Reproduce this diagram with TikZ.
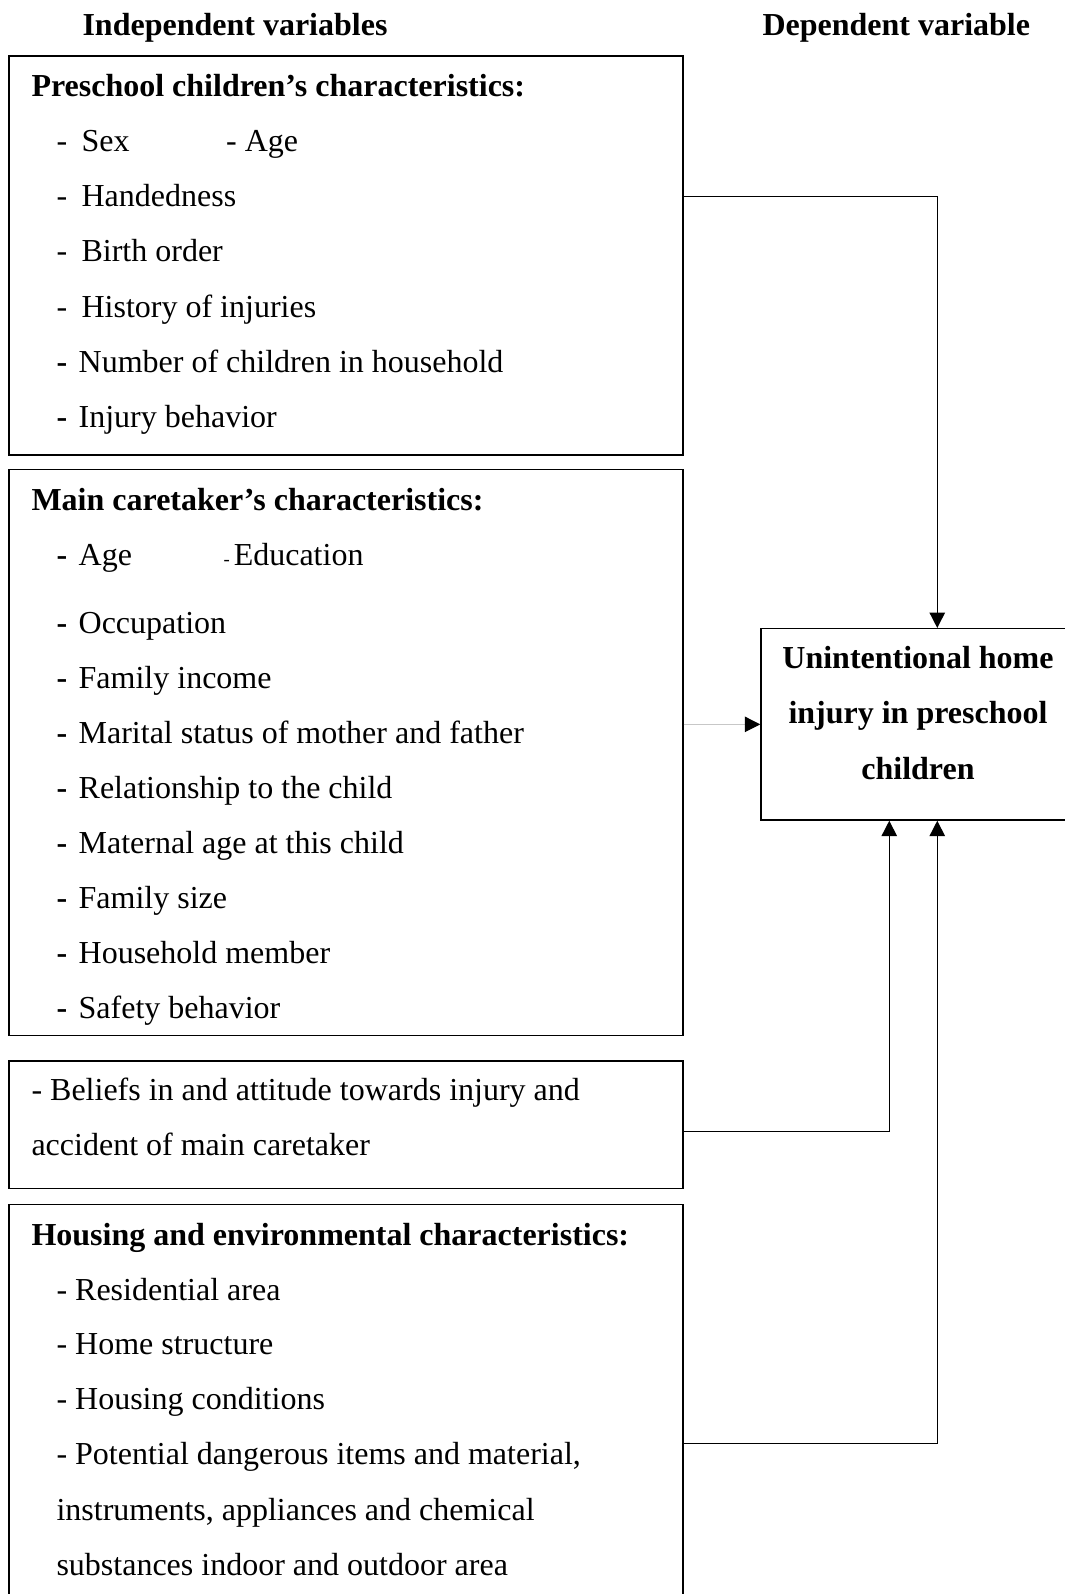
\documentclass[tikz,border=0pt]{standalone}
\usepackage{fontspec}
\setmainfont{Liberation Serif}
\usetikzlibrary{arrows.meta,fit}

\newcommand{\itm}[1]{\makebox[9.4pt][l]{-}#1}
\newcommand{\bitm}[1]{\makebox[8.3pt][l]{\textbf{-}}#1}

\begin{document}
\begin{tikzpicture}[x=0.375pt, y=-0.375pt,
    varbox/.style={draw, line width=0.55pt, inner sep=0pt},
    txt/.style={inner sep=0pt, anchor=base west, font=\fontsize{12pt}{14pt}\selectfont},
    head/.style={txt, font=\fontsize{12pt}{14pt}\selectfont\bfseries},
    link/.style={line width=0.55pt, -{Triangle[length=5.8pt, width=5.8pt]}}]

    % Page size
    \useasboundingbox (0,0) rectangle (1065,1594);

    % Column titles
    \node[head] (indep) at (82,35) {Independent variables};
    \node[head] (dep) at (762,35) {Dependent variable};

    % Preschool children box
    \node[varbox, fit={(9,56) (683,455)}] (child) {};
    \node[head] (childtitle) at (31,96) {Preschool children’s characteristics:};
    \node[txt] (sex) at (56,151) {\itm{Sex}};
    \node[txt] (age) at (225.6,151) {- Age};
    \node[txt] (hand) at (56,206) {\itm{Handedness}};
    \node[txt] (birth) at (56,261) {\itm{Birth order}};
    \node[txt] (hist) at (56,317) {\itm{History of injuries}};
    \node[txt] (nchild) at (56,372) {\bitm{Number of children in household}};
    \node[txt] (behav) at (56,427) {\bitm{Injury behavior}};

    % Main caretaker box
    \node[varbox, fit={(9,469.5) (683,1035.5)}] (carer) {};
    \node[head] (carertitle) at (31,510) {Main caretaker’s characteristics:};
    \node[txt] (cage) at (56,565) {\bitm{Age}};
    \node[txt] (educ) at (223,565) {{\scriptsize -}\hspace{1.5pt}Education};
    \node[txt] (occup) at (56,633) {\bitm{Occupation}};
    \node[txt] (income) at (56,688) {\bitm{Family income}};
    \node[txt] (marital) at (56,743) {\bitm{Marital status of mother and father}};
    \node[txt] (relat) at (56,798) {\bitm{Relationship to the child}};
    \node[txt] (matage) at (56,853) {\bitm{Maternal age at this child}};
    \node[txt] (fsize) at (56,908) {\bitm{Family size}};
    \node[txt] (member) at (56,963) {\bitm{Household member}};
    \node[txt] (safety) at (56,1018) {\bitm{Safety behavior}};

    % Beliefs box
    \node[varbox, fit={(9,1061) (683,1188.3)}] (belief) {};
    \node[txt] (belief1) at (31,1100) {- Beliefs in and attitude towards injury and};
    \node[txt] (belief2) at (31,1155) {accident of main caretaker};

    % Housing box
    \node[varbox, fit={(9,1204.3) (683,1600)}] (house) {};
    \node[head] (housetitle) at (31,1245) {Housing and environmental characteristics:};
    \node[txt] (area) at (56,1300) {- Residential area};
    \node[txt] (struct) at (56,1354) {- Home structure};
    \node[txt] (cond) at (56,1409) {- Housing conditions};
    \node[txt] (items1) at (56,1464) {- Potential dangerous items and material,};
    \node[txt] (items2) at (56,1520) {instruments, appliances and chemical};
    \node[txt] (items3) at (56,1575) {substances indoor and outdoor area};

    % Outcome box
    \node[varbox, fit={(761,628.7) (1075,820)}] (target) {};
    \node[head, anchor=base] (tgt1) at (918,668) {Unintentional home};
    \node[head, anchor=base] (tgt2) at (918,723) {injury in preschool};
    \node[head, anchor=base] (tgt3) at (918,779) {children};

    % Connector ends
    \path (child.north east) ++(0,141) coordinate (out1);
    \path (belief.north east) ++(0,71) coordinate (out3);
    \path (house.north east) ++(0,240) coordinate (out4);
    \path (target.north west) ++(177,0) coordinate (in1);
    \path (target.south west) ++(129,0) coordinate (in3);
    \path (target.south west) ++(177,0) coordinate (in4);

    % Arrows
    \draw[link] (out1) -| (in1);
    \draw[line width=0.4pt, draw=black!22, -{Triangle[length=5.8pt, width=5.8pt, black]}] (carer.east |- target.west) -- (target.west);
    \draw[link] (out3) -| (in3);
    \draw[link] (out4) -| (in4);
\end{tikzpicture}
\end{document}
